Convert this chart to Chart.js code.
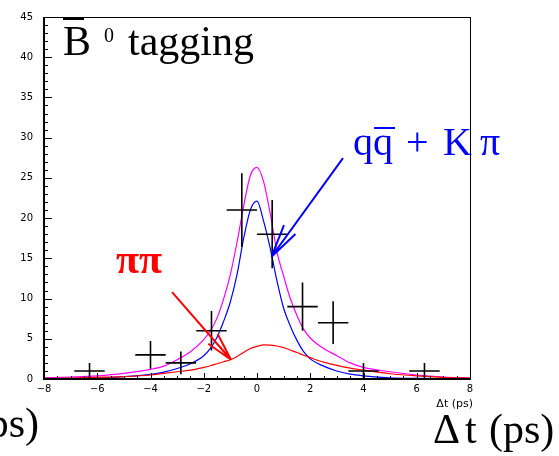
<!DOCTYPE html>
<html>
<head>
<meta charset="utf-8">
<script src="https://cdn.jsdelivr.net/npm/chart.js@4.4.1/dist/chart.umd.min.js"></script>
<style>
  html, body { margin: 0; padding: 0; background: #fff; }
  canvas { display: block; }
</style>
</head>
<body>
<canvas id="c" width="559" height="456"></canvas>
<script>
// Δt distribution, B̄0-tagged sample: binned events with fitted components

// Tick labels
const xTicks = [-8, -6, -4, -2, 0, 2, 4, 6, 8];
const yTicks = [0, 5, 10, 15, 20, 25, 30, 35, 40, 45];

// Binned events (bin width 16/14 ps)
const binCenters = [-6.29, -4.0, -2.86, -1.71, -0.57, 0.57, 1.71, 2.86, 4.0, 6.29];
const binCounts  = [1, 3, 2, 6, 21, 18, 9, 7, 1, 1];
const binErrors  = [1, 1.73, 1.41, 2.45, 4.58, 4.24, 3, 2.65, 1, 1];
const binHalfWidth = 0.571;

// Fit curves sampled in Δt
const curveT = [-8, -7, -6, -5, -4, -3.5, -3, -2.5, -2, -1.75, -1.5, -1.25, -1, -0.75, -0.5, -0.25,
                0, 0.25, 0.5, 0.75, 1, 1.25, 1.5, 1.75, 2, 2.5, 3, 3.5, 4, 5, 6, 7, 8];
const totalFit = [0.15, 0.25, 0.4, 0.7, 1.2, 1.6, 2.4, 3.4, 4.9, 6.0, 7.6, 10.0, 13.0, 17.0, 21.5, 25.3,
                  26.3, 24.5, 20.5, 15.8, 12.8, 10.0, 7.9, 6.2, 5.1, 3.8, 2.9, 2.0, 1.45, 0.9, 0.5, 0.25, 0.12];
const qqKpiFit = [0.05, 0.08, 0.12, 0.3, 0.57, 0.85, 1.3, 1.9, 2.9, 3.8, 5.2, 7.2, 9.6, 13.0, 17.5, 21.0,
                  22.1, 19.6, 16.2, 12.2, 8.8, 6.6, 4.8, 3.4, 2.5, 1.6, 1.0, 0.6, 0.4, 0.15, 0.08, 0.05, 0.03];
const pipiFit  = [0.08, 0.12, 0.2, 0.3, 0.5, 0.7, 0.9, 1.1, 1.45, 1.65, 1.9, 2.15, 2.4, 2.8, 3.3, 3.8,
                  4.05, 4.25, 4.2, 4.1, 3.9, 3.6, 3.3, 2.95, 2.65, 2.1, 1.7, 1.35, 1.1, 0.65, 0.38, 0.2, 0.1];

const toPoints = ys => curveT.map((t, i) => ({ x: t, y: ys[i] }));

// Annotation arrows, in (Δt, events) coordinates: tail, tip, two head ends
const qqArrow   = { tail: [3.23, 27.46], tip: [0.545, 15.2], heads: [[1.014, 19.13], [1.446, 18.02]] };
const pipiArrow = { tail: [-3.19, 10.79], tip: [-0.977, 2.39], heads: [[-1.476, 5.60], [-1.83, 4.38]] };

const serif = '"Liberation Serif", "Times New Roman", serif';
const sans = '"DejaVu Sans", sans-serif';

const overlay = {
  id: 'overlay',
  afterDatasetsDraw(chart) {
    const { ctx, scales: { x, y } } = chart;
    // error-bar crosses
    ctx.save();
    ctx.strokeStyle = '#000';
    ctx.lineWidth = 1.6;
    ctx.beginPath();
    binCenters.forEach((c, i) => {
      const px = x.getPixelForValue(c);
      const py = y.getPixelForValue(binCounts[i]);
      ctx.moveTo(x.getPixelForValue(c - binHalfWidth), py);
      ctx.lineTo(x.getPixelForValue(c + binHalfWidth), py);
      ctx.moveTo(px, y.getPixelForValue(Math.max(0, binCounts[i] - binErrors[i])));
      ctx.lineTo(px, y.getPixelForValue(binCounts[i] + binErrors[i]));
    });
    ctx.stroke();
    ctx.restore();
  },
  afterDraw(chart) {
    const { ctx, chartArea: a, scales: { x, y } } = chart;
    ctx.save();
    // frame
    ctx.strokeStyle = '#000';
    ctx.lineWidth = 1;
    ctx.strokeRect(a.left + 0.5, a.top + 0.5, a.right - a.left, a.bottom - a.top);
    ctx.lineWidth = 2;
    ctx.beginPath();
    ctx.moveTo(a.left, a.top); ctx.lineTo(a.left, a.bottom + 1);
    ctx.moveTo(a.left, a.bottom); ctx.lineTo(a.right + 1, a.bottom);
    ctx.stroke();

    // inward ticks
    ctx.lineWidth = 1;
    ctx.beginPath();
    for (let v = 0; v <= 45; v += 1) {
      const py = Math.round(y.getPixelForValue(v)) + 0.5;
      const len = v % 5 === 0 ? 8 : 4;
      ctx.moveTo(a.left, py); ctx.lineTo(a.left + len, py);
    }
    for (let v = -8; v <= 8; v += 0.5) {
      const px = Math.round(x.getPixelForValue(v)) + 0.5;
      const len = Math.abs(v % 2) < 1e-9 ? 6 : 3;
      ctx.moveTo(px, a.bottom); ctx.lineTo(px, a.bottom - len);
    }
    ctx.stroke();

    // arrows
    const drawArrow = (arr, color) => {
      const P = p => [x.getPixelForValue(p[0]), y.getPixelForValue(p[1])];
      const tip = P(arr.tip);
      ctx.strokeStyle = color;
      ctx.lineWidth = 2;
      ctx.beginPath();
      const t = P(arr.tail);
      ctx.moveTo(t[0], t[1]); ctx.lineTo(tip[0], tip[1]);
      arr.heads.forEach(h => { const q = P(h); ctx.moveTo(q[0], q[1]); ctx.lineTo(tip[0], tip[1]); });
      ctx.stroke();
    };
    drawArrow(qqArrow, '#0000ff');
    drawArrow(pipiArrow, '#ff0000');

    // title: B̄0 tagging
    ctx.fillStyle = '#000';
    ctx.textBaseline = 'alphabetic';
    ctx.textAlign = 'left';
    ctx.font = '42px ' + serif;
    ctx.fillText('B', 63, 55);
    ctx.fillText('tagging', 128, 55);
    ctx.font = '20px ' + serif;
    ctx.fillText('0', 104, 42);
    ctx.fillRect(63, 18, 21, 2);

    // qq̄ + Kπ label
    ctx.fillStyle = '#0000ff';
    ctx.font = '40px ' + serif;
    ctx.fillText('q', 353, 155);
    ctx.fillText('q', 373, 155);
    ctx.fillRect(374, 127, 21, 2);
    ctx.fillText('+', 406, 155);
    ctx.fillText('K', 443, 155);
    ctx.fillText('π', 480, 155);

    // ππ label
    ctx.fillStyle = '#ff0000';
    ctx.font = 'bold 42px ' + serif;
    ctx.fillText('ππ', 116, 273);

    // axis title
    ctx.fillStyle = '#000';
    ctx.font = '11px ' + sans;
    ctx.textAlign = 'right';
    ctx.fillText('Δt (ps)', 473, 407);

    // large axis captions
    ctx.font = '42px ' + serif;
    ctx.textAlign = 'right';
    ctx.fillText('ps)', 39, 437);
    ctx.textAlign = 'left';
    ctx.fillText('Δ', 433, 443);
    ctx.fillText('t', 465, 443);
    ctx.fillText('(ps)', 489, 443);
    ctx.restore();
  }
};

new Chart(document.getElementById('c'), {
  type: 'scatter',
  data: {
    datasets: [
      { data: toPoints(pipiFit), showLine: true, borderColor: '#ff0000', borderWidth: 1.2,
        pointRadius: 0, cubicInterpolationMode: 'monotone', order: 1 },
      { data: toPoints(qqKpiFit), showLine: true, borderColor: '#0000ff', borderWidth: 1.2,
        pointRadius: 0, cubicInterpolationMode: 'monotone', order: 2 },
      { data: toPoints(totalFit), showLine: true, borderColor: '#ff00ff', borderWidth: 1.2,
        pointRadius: 0, cubicInterpolationMode: 'monotone', order: 3 }
    ]
  },
  options: {
    responsive: false,
    animation: false,
    devicePixelRatio: 1,
    layout: { padding: { top: 12, right: 89, left: 0, bottom: 0 } },
    plugins: { legend: { display: false }, tooltip: { enabled: false } },
    scales: {
      x: {
        type: 'linear', min: -8, max: 8,
        grid: { display: false, drawTicks: false },
        border: { display: false },
        afterBuildTicks: s => { s.ticks = xTicks.map(v => ({ value: v })); },
        afterFit: s => { s.height = 77; },
        ticks: {
          color: '#000', padding: 4, maxRotation: 0, autoSkip: false,
          font: { family: sans, size: 10 },
          callback: v => (v < 0 ? '\u2212' + Math.abs(v) : String(v))
        }
      },
      y: {
        type: 'linear', min: 0, max: 45,
        grid: { display: false, drawTicks: false },
        border: { display: false },
        afterBuildTicks: s => { s.ticks = yTicks.map(v => ({ value: v })); },
        afterFit: s => { s.width = 44; },
        ticks: { color: '#000', padding: 11, autoSkip: false, font: { family: sans, size: 10 } }
      }
    }
  },
  plugins: [overlay]
});
</script>
</body>
</html>
